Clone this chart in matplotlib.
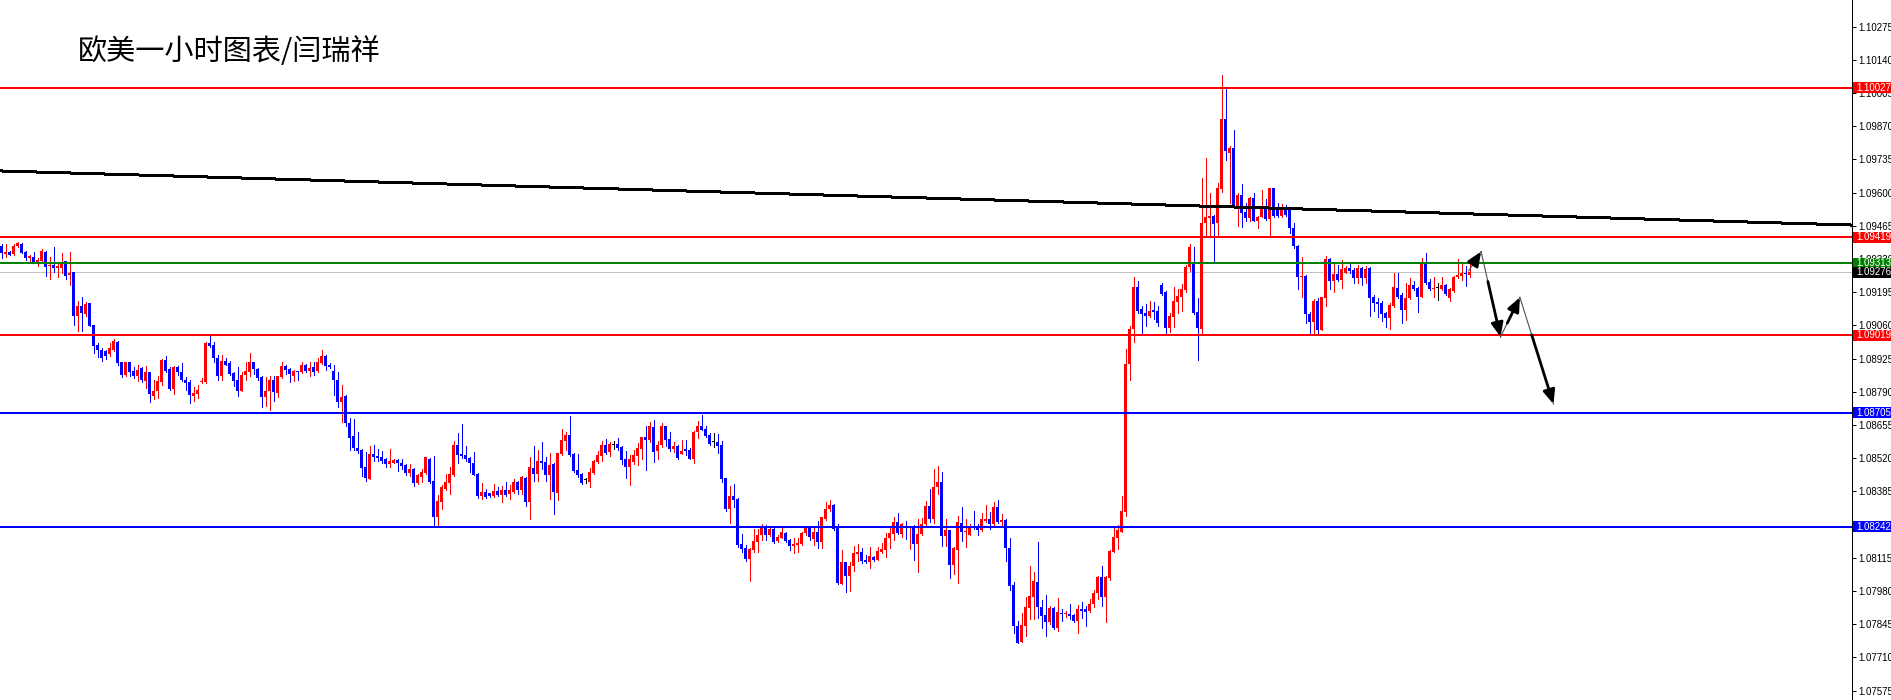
import matplotlib
matplotlib.use("Agg")
import matplotlib.pyplot as plt
import matplotlib.transforms as mtransforms
from matplotlib.patches import Rectangle

# EURUSD H1 candles (oldest first)
opens = [
    1.09384, 1.09351, 1.09360, 1.09350, 1.09384, 1.09390, 1.09360, 1.09333, 1.09339, 1.09319,
    1.09321, 1.09360, 1.09302, 1.09305, 1.09294, 1.09294, 1.09321, 1.09264, 1.09278, 1.09098,
    1.09138, 1.09108, 1.09151, 1.09060, 1.08979, 1.08958, 1.08955, 1.08942, 1.08962, 1.08992,
    1.08910, 1.08860, 1.08910, 1.08876, 1.08856, 1.08886, 1.08832, 1.08870, 1.08774, 1.08792,
    1.08829, 1.08921, 1.08883, 1.08802, 1.08890, 1.08870, 1.08840, 1.08829, 1.08774, 1.08781,
    1.08829, 1.08829, 1.08989, 1.08982, 1.08929, 1.08853, 1.08917, 1.08906, 1.08865, 1.08840,
    1.08795, 1.08860, 1.08870, 1.08910, 1.08883, 1.08849, 1.08768, 1.08792, 1.08836, 1.08784,
    1.08849, 1.08894, 1.08883, 1.08856, 1.08872, 1.08870, 1.08899, 1.08874, 1.08890, 1.08874,
    1.08908, 1.08935, 1.08897, 1.08876, 1.08838, 1.08750, 1.08773, 1.08662, 1.08611, 1.08563,
    1.08554, 1.08486, 1.08436, 1.08538, 1.08529, 1.08524, 1.08517, 1.08497, 1.08502, 1.08513,
    1.08502, 1.08493, 1.08459, 1.08477, 1.08418, 1.08445, 1.08459, 1.08517, 1.08428, 1.08283,
    1.08344, 1.08395, 1.08418, 1.08452, 1.08574, 1.08538, 1.08534, 1.08520, 1.08500, 1.08456,
    1.08368, 1.08382, 1.08378, 1.08368, 1.08387, 1.08371, 1.08391, 1.08374, 1.08384, 1.08425,
    1.08391, 1.08441, 1.08340, 1.08482, 1.08455, 1.08509, 1.08506, 1.08450, 1.08497, 1.08380,
    1.08538, 1.08592, 1.08615, 1.08538, 1.08472, 1.08456, 1.08432, 1.08425, 1.08459, 1.08506,
    1.08531, 1.08574, 1.08544, 1.08574, 1.08578, 1.08567, 1.08517, 1.08486, 1.08506, 1.08530,
    1.08557, 1.08608, 1.08595, 1.08645, 1.08551, 1.08574, 1.08649, 1.08599, 1.08558, 1.08570,
    1.08537, 1.08558, 1.08554, 1.08517, 1.08626, 1.08651, 1.08639, 1.08615, 1.08585, 1.08584,
    1.08574, 1.08439, 1.08314, 1.08367, 1.08355, 1.08172, 1.08154, 1.08111, 1.08145, 1.08181,
    1.08208, 1.08246, 1.08208, 1.08233, 1.08185, 1.08197, 1.08218, 1.08188, 1.08165, 1.08168,
    1.08172, 1.08215, 1.08235, 1.08192, 1.08219, 1.08181, 1.08273, 1.08312, 1.08330, 1.08238,
    1.08009, 1.08097, 1.08043, 1.08082, 1.08131, 1.08138, 1.08107, 1.08100, 1.08117, 1.08107,
    1.08140, 1.08147, 1.08195, 1.08212, 1.08260, 1.08212, 1.08245, 1.08242, 1.08245, 1.08172,
    1.08212, 1.08253, 1.08326, 1.08273, 1.08402, 1.08422, 1.08205, 1.08228, 1.08086, 1.08147,
    1.08256, 1.08222, 1.08208, 1.08246, 1.08246, 1.08228, 1.08265, 1.08273, 1.08253, 1.08321,
    1.08262, 1.08269, 1.08156, 1.08005, 1.07839, 1.07774, 1.07839, 1.07912, 1.07957, 1.08018,
    1.07916, 1.07883, 1.07856, 1.07912, 1.07831, 1.07892, 1.07887, 1.07887, 1.07883, 1.07860,
    1.07907, 1.07907, 1.07899, 1.07926, 1.07971, 1.08036, 1.07957, 1.08032, 1.08140, 1.08197,
    1.08221, 1.08303, 1.08902, 1.09044, 1.09215, 1.09125, 1.09109, 1.09099, 1.09122, 1.09118,
    1.09224, 1.09197, 1.09051, 1.09095, 1.09156, 1.09176, 1.09204, 1.09299, 1.09312, 1.09116,
    1.09044, 1.09475, 1.09498, 1.09505, 1.09475, 1.09615, 1.09899, 1.09762, 1.09780, 1.09547,
    1.09590, 1.09522, 1.09498, 1.09577, 1.09486, 1.09502, 1.09533, 1.09493, 1.09617, 1.09543,
    1.09505, 1.09543, 1.09529, 1.09457, 1.09383, 1.09256, 1.09261, 1.09106, 1.09073, 1.09161,
    1.09041, 1.09170, 1.09329, 1.09242, 1.09269, 1.09245, 1.09275, 1.09292, 1.09285, 1.09251,
    1.09292, 1.09251, 1.09292, 1.09177, 1.09156, 1.09153, 1.09109, 1.09092, 1.09139, 1.09211,
    1.09184, 1.09123, 1.09170, 1.09224, 1.09211, 1.09174, 1.09315, 1.09238, 1.09208, 1.09211,
    1.09207, 1.09224, 1.09171, 1.09201, 1.09256, 1.09261, 1.09274, 1.09265,
]
highs = [
    1.09389, 1.09389, 1.09362, 1.09389, 1.09400, 1.09397, 1.09362, 1.09348, 1.09357, 1.09335,
    1.09370, 1.09362, 1.09339, 1.09377, 1.09319, 1.09354, 1.09321, 1.09357, 1.09278, 1.09158,
    1.09176, 1.09155, 1.09153, 1.09063, 1.08989, 1.08968, 1.08962, 1.08989, 1.09006, 1.08995,
    1.08913, 1.08913, 1.08913, 1.08890, 1.08897, 1.08890, 1.08894, 1.08870, 1.08836, 1.08853,
    1.08924, 1.08935, 1.08890, 1.08894, 1.08894, 1.08908, 1.08849, 1.08836, 1.08811, 1.08818,
    1.08846, 1.08992, 1.09017, 1.08992, 1.08940, 1.08940, 1.08927, 1.08917, 1.08872, 1.08890,
    1.08870, 1.08913, 1.08947, 1.08913, 1.08886, 1.08853, 1.08849, 1.08853, 1.08853, 1.08856,
    1.08910, 1.08899, 1.08886, 1.08880, 1.08876, 1.08910, 1.08904, 1.08910, 1.08910, 1.08927,
    1.08958, 1.08938, 1.08906, 1.08897, 1.08870, 1.08818, 1.08777, 1.08683, 1.08679, 1.08628,
    1.08557, 1.08547, 1.08570, 1.08574, 1.08557, 1.08550, 1.08520, 1.08557, 1.08517, 1.08516,
    1.08516, 1.08497, 1.08497, 1.08479, 1.08455, 1.08475, 1.08527, 1.08520, 1.08530, 1.08371,
    1.08412, 1.08456, 1.08483, 1.08588, 1.08624, 1.08660, 1.08570, 1.08527, 1.08544, 1.08459,
    1.08418, 1.08395, 1.08380, 1.08416, 1.08405, 1.08408, 1.08425, 1.08412, 1.08435, 1.08429,
    1.08449, 1.08445, 1.08527, 1.08571, 1.08554, 1.08584, 1.08527, 1.08543, 1.08502, 1.08543,
    1.08639, 1.08628, 1.08692, 1.08540, 1.08536, 1.08459, 1.08441, 1.08479, 1.08513, 1.08550,
    1.08590, 1.08599, 1.08584, 1.08590, 1.08601, 1.08570, 1.08551, 1.08534, 1.08554, 1.08581,
    1.08608, 1.08649, 1.08669, 1.08676, 1.08588, 1.08662, 1.08651, 1.08628, 1.08585, 1.08574,
    1.08594, 1.08594, 1.08563, 1.08631, 1.08672, 1.08696, 1.08651, 1.08624, 1.08621, 1.08617,
    1.08590, 1.08441, 1.08407, 1.08415, 1.08357, 1.08212, 1.08168, 1.08154, 1.08233, 1.08233,
    1.08253, 1.08249, 1.08242, 1.08235, 1.08208, 1.08235, 1.08222, 1.08191, 1.08195, 1.08195,
    1.08222, 1.08242, 1.08245, 1.08242, 1.08265, 1.08283, 1.08344, 1.08351, 1.08333, 1.08253,
    1.08147, 1.08100, 1.08100, 1.08165, 1.08172, 1.08157, 1.08127, 1.08161, 1.08123, 1.08158,
    1.08177, 1.08215, 1.08235, 1.08279, 1.08296, 1.08256, 1.08265, 1.08245, 1.08249, 1.08273,
    1.08276, 1.08346, 1.08395, 1.08475, 1.08489, 1.08462, 1.08273, 1.08228, 1.08161, 1.08285,
    1.08321, 1.08273, 1.08251, 1.08306, 1.08251, 1.08296, 1.08330, 1.08303, 1.08344, 1.08351,
    1.08293, 1.08271, 1.08197, 1.08018, 1.07860, 1.07892, 1.07957, 1.08082, 1.08059, 1.08181,
    1.07944, 1.07964, 1.07919, 1.07916, 1.07950, 1.07907, 1.07900, 1.07927, 1.07887, 1.07923,
    1.07937, 1.07921, 1.07948, 1.07984, 1.08041, 1.08082, 1.08041, 1.08147, 1.08239, 1.08249,
    1.08366, 1.08964, 1.09057, 1.09255, 1.09240, 1.09139, 1.09145, 1.09159, 1.09154, 1.09139,
    1.09231, 1.09201, 1.09109, 1.09217, 1.09206, 1.09228, 1.09305, 1.09390, 1.09380, 1.09173,
    1.09661, 1.09742, 1.09597, 1.09509, 1.09638, 1.10078, 1.10021, 1.09789, 1.09854, 1.09597,
    1.09634, 1.09556, 1.09583, 1.09597, 1.09505, 1.09610, 1.09573, 1.09620, 1.09620, 1.09559,
    1.09554, 1.09550, 1.09532, 1.09475, 1.09387, 1.09340, 1.09265, 1.09116, 1.09166, 1.09170,
    1.09177, 1.09342, 1.09333, 1.09308, 1.09306, 1.09326, 1.09302, 1.09308, 1.09292, 1.09306,
    1.09296, 1.09302, 1.09299, 1.09184, 1.09170, 1.09161, 1.09116, 1.09150, 1.09272, 1.09272,
    1.09190, 1.09231, 1.09251, 1.09241, 1.09218, 1.09333, 1.09356, 1.09247, 1.09258, 1.09234,
    1.09258, 1.09228, 1.09211, 1.09261, 1.09329, 1.09310, 1.09302, 1.09310,
]
lows = [
    1.09335, 1.09339, 1.09346, 1.09346, 1.09378, 1.09354, 1.09325, 1.09321, 1.09316, 1.09302,
    1.09319, 1.09261, 1.09250, 1.09278, 1.09257, 1.09275, 1.09250, 1.09223, 1.09060, 1.09036,
    1.09036, 1.09098, 1.09056, 1.08947, 1.08931, 1.08915, 1.08924, 1.08935, 1.08954, 1.08897,
    1.08849, 1.08856, 1.08856, 1.08848, 1.08833, 1.08829, 1.08804, 1.08747, 1.08761, 1.08764,
    1.08818, 1.08870, 1.08799, 1.08781, 1.08859, 1.08832, 1.08798, 1.08743, 1.08754, 1.08764,
    1.08825, 1.08826, 1.08972, 1.08910, 1.08836, 1.08836, 1.08897, 1.08859, 1.08812, 1.08774,
    1.08792, 1.08838, 1.08856, 1.08863, 1.08836, 1.08727, 1.08734, 1.08717, 1.08754, 1.08768,
    1.08846, 1.08863, 1.08829, 1.08833, 1.08836, 1.08867, 1.08870, 1.08856, 1.08859, 1.08870,
    1.08904, 1.08880, 1.08886, 1.08777, 1.08727, 1.08669, 1.08651, 1.08554, 1.08554, 1.08540,
    1.08448, 1.08428, 1.08435, 1.08510, 1.08509, 1.08502, 1.08483, 1.08486, 1.08499, 1.08469,
    1.08475, 1.08452, 1.08448, 1.08408, 1.08416, 1.08425, 1.08455, 1.08418, 1.08245, 1.08245,
    1.08314, 1.08391, 1.08375, 1.08448, 1.08500, 1.08520, 1.08509, 1.08463, 1.08450, 1.08360,
    1.08353, 1.08360, 1.08364, 1.08364, 1.08368, 1.08344, 1.08367, 1.08355, 1.08380, 1.08375,
    1.08374, 1.08326, 1.08273, 1.08428, 1.08429, 1.08475, 1.08429, 1.08355, 1.08294, 1.08351,
    1.08534, 1.08554, 1.08530, 1.08463, 1.08445, 1.08416, 1.08421, 1.08405, 1.08456, 1.08502,
    1.08510, 1.08538, 1.08531, 1.08557, 1.08554, 1.08497, 1.08441, 1.08412, 1.08497, 1.08493,
    1.08516, 1.08473, 1.08584, 1.08506, 1.08517, 1.08565, 1.08570, 1.08551, 1.08547, 1.08516,
    1.08536, 1.08533, 1.08516, 1.08502, 1.08601, 1.08635, 1.08608, 1.08574, 1.08567, 1.08543,
    1.08425, 1.08307, 1.08258, 1.08321, 1.08161, 1.08140, 1.08102, 1.08021, 1.08140, 1.08140,
    1.08188, 1.08188, 1.08205, 1.08174, 1.08181, 1.08195, 1.08181, 1.08147, 1.08136, 1.08140,
    1.08168, 1.08208, 1.08188, 1.08168, 1.08157, 1.08154, 1.08269, 1.08306, 1.08229, 1.08008,
    1.08009, 1.07978, 1.07981, 1.08063, 1.08102, 1.08093, 1.08096, 1.08075, 1.08104, 1.08107,
    1.08134, 1.08120, 1.08154, 1.08188, 1.08212, 1.08201, 1.08191, 1.08151, 1.08106, 1.08059,
    1.08208, 1.08249, 1.08262, 1.08256, 1.08373, 1.08165, 1.08165, 1.08035, 1.08050, 1.08014,
    1.08185, 1.08161, 1.08208, 1.08231, 1.08208, 1.08224, 1.08262, 1.08233, 1.08249, 1.08258,
    1.08242, 1.08104, 1.07984, 1.07808, 1.07770, 1.07774, 1.07799, 1.07865, 1.07865, 1.07869,
    1.07831, 1.07799, 1.07845, 1.07824, 1.07819, 1.07860, 1.07876, 1.07866, 1.07856, 1.07811,
    1.07872, 1.07839, 1.07896, 1.07916, 1.07948, 1.07921, 1.07855, 1.08025, 1.08140, 1.08149,
    1.08221, 1.08286, 1.08838, 1.08991, 1.09112, 1.09025, 1.09057, 1.09093, 1.09085, 1.09057,
    1.09183, 1.09024, 1.09034, 1.09052, 1.09109, 1.09120, 1.09197, 1.09280, 1.09106, 1.08920,
    1.09024, 1.09424, 1.09424, 1.09319, 1.09424, 1.09604, 1.09732, 1.09556, 1.09547, 1.09466,
    1.09461, 1.09485, 1.09485, 1.09485, 1.09457, 1.09502, 1.09489, 1.09421, 1.09502, 1.09502,
    1.09502, 1.09505, 1.09437, 1.09373, 1.09208, 1.09174, 1.09069, 1.09030, 1.09025, 1.09030,
    1.09041, 1.09139, 1.09207, 1.09197, 1.09242, 1.09211, 1.09272, 1.09272, 1.09234, 1.09234,
    1.09224, 1.09234, 1.09100, 1.09120, 1.09093, 1.09079, 1.09055, 1.09044, 1.09136, 1.09170,
    1.09071, 1.09082, 1.09166, 1.09204, 1.09116, 1.09174, 1.09228, 1.09204, 1.09177, 1.09163,
    1.09204, 1.09184, 1.09161, 1.09197, 1.09251, 1.09245, 1.09220, 1.09258,
]
closes = [
    1.09353, 1.09360, 1.09348, 1.09384, 1.09393, 1.09355, 1.09333, 1.09341, 1.09319, 1.09325,
    1.09362, 1.09298, 1.09305, 1.09294, 1.09302, 1.09319, 1.09261, 1.09275, 1.09098, 1.09138,
    1.09112, 1.09148, 1.09057, 1.08976, 1.08958, 1.08928, 1.08934, 1.08968, 1.08995, 1.08906,
    1.08860, 1.08910, 1.08872, 1.08856, 1.08880, 1.08836, 1.08870, 1.08781, 1.08795, 1.08833,
    1.08921, 1.08876, 1.08802, 1.08890, 1.08870, 1.08836, 1.08825, 1.08777, 1.08784, 1.08799,
    1.08833, 1.08988, 1.08976, 1.08927, 1.08856, 1.08917, 1.08901, 1.08861, 1.08832, 1.08795,
    1.08860, 1.08874, 1.08910, 1.08883, 1.08845, 1.08768, 1.08795, 1.08836, 1.08788, 1.08853,
    1.08894, 1.08880, 1.08863, 1.08876, 1.08870, 1.08899, 1.08876, 1.08886, 1.08870, 1.08910,
    1.08934, 1.08894, 1.08890, 1.08836, 1.08747, 1.08768, 1.08665, 1.08604, 1.08563, 1.08551,
    1.08482, 1.08439, 1.08538, 1.08527, 1.08520, 1.08510, 1.08497, 1.08509, 1.08513, 1.08502,
    1.08490, 1.08459, 1.08477, 1.08418, 1.08450, 1.08463, 1.08523, 1.08422, 1.08283, 1.08347,
    1.08405, 1.08422, 1.08456, 1.08574, 1.08534, 1.08530, 1.08517, 1.08500, 1.08452, 1.08368,
    1.08384, 1.08364, 1.08367, 1.08387, 1.08371, 1.08391, 1.08371, 1.08391, 1.08425, 1.08391,
    1.08445, 1.08340, 1.08486, 1.08455, 1.08509, 1.08502, 1.08450, 1.08493, 1.08384, 1.08540,
    1.08595, 1.08615, 1.08534, 1.08470, 1.08450, 1.08421, 1.08432, 1.08463, 1.08509, 1.08534,
    1.08574, 1.08540, 1.08578, 1.08574, 1.08563, 1.08513, 1.08486, 1.08516, 1.08534, 1.08561,
    1.08605, 1.08595, 1.08649, 1.08547, 1.08574, 1.08649, 1.08595, 1.08558, 1.08570, 1.08520,
    1.08550, 1.08550, 1.08517, 1.08626, 1.08651, 1.08635, 1.08612, 1.08578, 1.08585, 1.08571,
    1.08436, 1.08314, 1.08367, 1.08351, 1.08168, 1.08151, 1.08111, 1.08151, 1.08184, 1.08208,
    1.08246, 1.08208, 1.08233, 1.08178, 1.08201, 1.08222, 1.08185, 1.08165, 1.08172, 1.08177,
    1.08218, 1.08238, 1.08199, 1.08222, 1.08178, 1.08279, 1.08314, 1.08330, 1.08233, 1.08012,
    1.08097, 1.08043, 1.08082, 1.08134, 1.08140, 1.08104, 1.08100, 1.08123, 1.08107, 1.08143,
    1.08151, 1.08197, 1.08215, 1.08262, 1.08215, 1.08251, 1.08242, 1.08245, 1.08172, 1.08212,
    1.08253, 1.08326, 1.08273, 1.08402, 1.08422, 1.08205, 1.08228, 1.08084, 1.08157, 1.08260,
    1.08219, 1.08225, 1.08246, 1.08235, 1.08228, 1.08273, 1.08273, 1.08253, 1.08321, 1.08262,
    1.08269, 1.08156, 1.08002, 1.07839, 1.07770, 1.07842, 1.07916, 1.07960, 1.08022, 1.07916,
    1.07880, 1.07856, 1.07910, 1.07831, 1.07893, 1.07887, 1.07892, 1.07880, 1.07860, 1.07907,
    1.07900, 1.07896, 1.07927, 1.07973, 1.08036, 1.07957, 1.08036, 1.08143, 1.08198, 1.08228,
    1.08305, 1.08903, 1.09044, 1.09215, 1.09120, 1.09106, 1.09099, 1.09118, 1.09116, 1.09071,
    1.09187, 1.09051, 1.09098, 1.09159, 1.09179, 1.09208, 1.09299, 1.09380, 1.09109, 1.09048,
    1.09475, 1.09502, 1.09505, 1.09471, 1.09617, 1.09899, 1.09770, 1.09780, 1.09547, 1.09590,
    1.09518, 1.09498, 1.09577, 1.09485, 1.09502, 1.09533, 1.09493, 1.09617, 1.09505, 1.09505,
    1.09536, 1.09509, 1.09455, 1.09383, 1.09258, 1.09261, 1.09106, 1.09073, 1.09161, 1.09041,
    1.09174, 1.09329, 1.09242, 1.09269, 1.09245, 1.09288, 1.09292, 1.09283, 1.09251, 1.09292,
    1.09251, 1.09288, 1.09173, 1.09153, 1.09147, 1.09106, 1.09092, 1.09143, 1.09215, 1.09174,
    1.09123, 1.09173, 1.09224, 1.09207, 1.09177, 1.09315, 1.09231, 1.09208, 1.09214, 1.09211,
    1.09224, 1.09186, 1.09207, 1.09258, 1.09265, 1.09272, 1.09268, 1.09278,
]

# horizontal levels drawn on the chart
levels = [1.10027, 1.09419, 1.09313, 1.09019, 1.08705, 1.08242]
level_colors = ["#ff0000", "#ff0000", "#008000", "#ff0000", "#0000ff", "#0000ff"]
bid_price = 1.09276

# descending trend line (bar index, price)
trend_x = [-0.375, 462.625]
trend_y = [1.09688, 1.09468]

# hand drawn forecast path (bar index, price)
path_x = [366.8, 369.9, 374.75, 379.6, 388.0]
path_y = [1.09282, 1.09360, 1.09013, 1.09174, 1.08740]

price_ticks = [1.07575, 1.07710, 1.07845, 1.07980, 1.08115, 1.08250, 1.08385,
               1.08520, 1.08655, 1.08790, 1.08925, 1.09060, 1.09195, 1.09330,
               1.09465, 1.09600, 1.09735, 1.09870, 1.10005, 1.10140, 1.10275]

title = "欧美一小时图表/闫瑞祥"

W, H = 1891, 700
PLOT_W = 1852
Y_TOP, Y_BOTTOM = 1.10383, 1.07537
PX_PRICE = (Y_TOP - Y_BOTTOM) / H
PX = 0.72  # one pixel in points at 100 dpi


def candle_color(o, c):
    if c > o:
        return "#ff0000"
    if c < o:
        return "#0000ff"
    return "#000000"


def draw_candles(ax):
    assert len(opens) == len(highs) == len(lows) == len(closes)
    xs = list(range(len(closes)))
    colors = [candle_color(o, c) for o, c in zip(opens, closes)]
    ax.vlines(xs, lows, highs, colors=colors, linewidth=1.0 * PX,
              antialiased=False, zorder=2)
    bottoms = [min(o, c) for o, c in zip(opens, closes)]
    heights = [max(abs(c - o), PX_PRICE) for o, c in zip(opens, closes)]
    ax.bar(xs, heights, bottom=bottoms, width=0.75, color=colors,
           linewidth=0, antialiased=False, zorder=2)


def draw_price_box(ax, price, color):
    trans = mtransforms.blended_transform_factory(ax.transAxes, ax.transData)
    box_h = 11 * PX_PRICE
    ax.add_patch(Rectangle((1 + 1 / PLOT_W, price - box_h / 2), 38 / PLOT_W, box_h,
                           transform=trans, facecolor=color, edgecolor="none",
                           antialiased=False, clip_on=False, zorder=6))
    ax.text(1 + 4 / PLOT_W, price, f"{price:.5f}", transform=trans, color="white",
            fontsize=7, family="Liberation Sans", va="center", ha="left",
            clip_on=False, zorder=7)


def main():
    fig = plt.figure(figsize=(W / 100, H / 100), dpi=100)
    fig.patch.set_facecolor("white")
    ax = fig.add_axes([0, 0, PLOT_W / W, 1])
    ax.set_xlim(-0.375, 462.625)
    ax.set_ylim(Y_BOTTOM, Y_TOP)

    draw_candles(ax)

    ax.plot(trend_x, trend_y, color="black", linewidth=2 * PX,
            antialiased=False, zorder=3)
    for lvl, col in zip(levels, level_colors):
        ax.axhline(lvl, color=col, linewidth=2 * PX, antialiased=False, zorder=3)
    ax.axhline(bid_price, color="#c0c0c0", linewidth=1 * PX, antialiased=False, zorder=1)

    # forecast arrows: thin start, thick end with a filled head
    for k in range(len(path_x) - 1):
        x0, y0, x1, y1 = path_x[k], path_y[k], path_x[k + 1], path_y[k + 1]
        ax.plot([x0, x1], [y0, y1], color="#505050", linewidth=0.8, zorder=4)
        xm = x0 + 0.35 * (x1 - x0)
        ym = y0 + 0.35 * (y1 - y0)
        ax.annotate("", xy=(x1, y1), xytext=(xm, ym),
                    arrowprops=dict(arrowstyle="-|>,head_length=0.7,head_width=0.3",
                                    color="black", linewidth=2.0, mutation_scale=12,
                                    shrinkA=0, shrinkB=0),
                    zorder=5)

    # right price scale
    for side in ["left", "top", "bottom"]:
        ax.spines[side].set_visible(False)
    ax.spines["right"].set_linewidth(1 * PX)
    ax.spines["right"].set_antialiased(False)
    ax.set_xticks([])
    ax.yaxis.tick_right()
    ax.set_yticks(price_ticks)
    ax.set_yticklabels([f"{p:.5f}" for p in price_ticks])
    ax.tick_params(axis="y", direction="out", length=3, width=1 * PX, pad=1.5,
                   labelsize=7, colors="black")
    for lab in ax.get_yticklabels():
        lab.set_family("Liberation Sans")

    for lvl, col in zip(levels, level_colors):
        draw_price_box(ax, lvl, col)
    draw_price_box(ax, bid_price, "#000000")

    fig.text(78 / W, 1 - 52 / H, title, fontsize=21, va="center", ha="left",
             family=["Noto Sans CJK SC", "DejaVu Sans"], color="black")

    fig.savefig("out.png", dpi=100, facecolor="white")


if __name__ == "__main__":
    main()
